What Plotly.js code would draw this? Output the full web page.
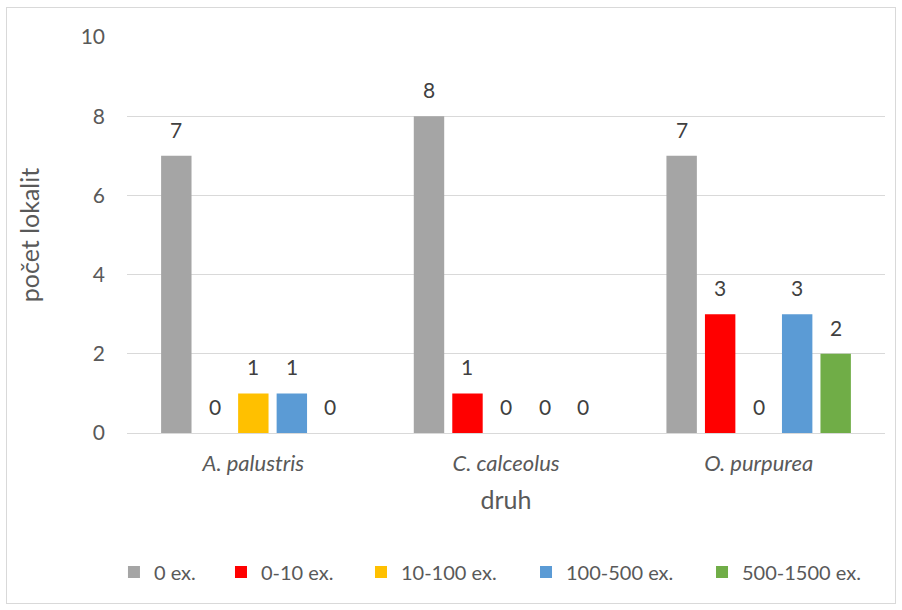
<!DOCTYPE html>
<html>
<head>
<meta charset="utf-8">
<script src="https://cdn.plot.ly/plotly-3.0.1.min.js"></script>
<style>
  html, body { margin: 0; padding: 0; background: #ffffff; }
  #wrap { position: relative; width: 902px; height: 610px; }
  #chart { width: 902px; height: 610px; }
  #frame { position: absolute; left: 6px; top: 7px; width: 890px; height: 597px;
           border: 1px solid #d9d9d9; box-sizing: border-box; pointer-events: none; }
</style>
</head>
<body>
<div id="wrap">
  <div id="chart"></div>
  <div id="frame"></div>
</div>
<script>
const categories = ['A. palustris', 'C. calceolus', 'O. purpurea'];
const seriesNames = ['0 ex.', '0-10 ex.', '10-100 ex.', '100-500 ex.', '500-1500 ex.'];
const s0 = [7, 8, 7];
const s1 = [0, 1, 3];
const s2 = [1, 0, 0];
const s3 = [1, 0, 3];
const s4 = [0, 0, 2];
const yTicks = [0, 2, 4, 6, 8, 10];
const xTitle = 'druh';
const yTitle = 'počet lokalit';

const seriesValues = [s0, s1, s2, s3, s4];
const colors = ['#a5a5a5', '#ff0000', '#ffc000', '#5b9bd5', '#70ad47'];
const legendIds = ['legend', 'legend2', 'legend3', 'legend4', 'legend5'];
const legendX = [-0.0172, 0.124, 0.3087, 0.5264, 0.7586];
const FONT = 'Lato, "Open Sans", "Liberation Sans", sans-serif';
const BARGAP = 0.238;
const nSeries = seriesValues.length;

const traces = seriesValues.map((vals, i) => ({
  type: 'bar',
  name: seriesNames[i],
  x: categories,
  y: vals,
  marker: { color: colors[i], line: { width: 0 } },
  legend: legendIds[i],
  hoverinfo: 'skip'
}));

// data labels placed through the category axis, centred over each bar slot
const slot = (1 - BARGAP) / nSeries;
const annotations = [];
seriesValues.forEach((vals, i) => {
  vals.forEach((v, j) => {
    annotations.push({
      xref: 'x', yref: 'y',
      x: j + (i - (nSeries - 1) / 2) * slot,
      y: v,
      text: String(v),
      showarrow: false,
      xanchor: 'center',
      yanchor: 'bottom',
      yshift: 12,
      font: { family: FONT, size: 21, color: '#404040' }
    });
  });
});

const layout = {
  width: 902,
  height: 610,
  margin: { l: 127, r: 17, t: 37, b: 177 },
  paper_bgcolor: '#ffffff',
  plot_bgcolor: '#ffffff',
  font: { family: FONT, color: '#595959' },
  barmode: 'group',
  bargap: BARGAP,
  bargroupgap: 0.21,
  showlegend: true,
  annotations: annotations,
  xaxis: {
    type: 'category',
    tickfont: { family: FONT, size: 22, color: '#595959', style: 'italic' },
    ticklabelstandoff: 15,
    showline: false,
    showgrid: false,
    title: { text: xTitle, font: { family: FONT, size: 25, color: '#595959' }, standoff: 16 },
    automargin: false
  },
  yaxis: {
    range: [0, 10],
    tickvals: yTicks,
    ticktext: yTicks.map(String),
    tickfont: { family: FONT, size: 21, color: '#595959' },
    ticklabelstandoff: 21,
    showgrid: true,
    gridcolor: '#d9d9d9',
    gridwidth: 1,
    zeroline: true,
    zerolinecolor: '#d9d9d9',
    zerolinewidth: 1,
    showline: false,
    title: { text: yTitle, font: { family: FONT, size: 25, color: '#595959' }, standoff: 33 },
    automargin: false
  }
};

legendIds.forEach((id, i) => {
  layout[id] = {
    orientation: 'h',
    x: legendX[i],
    xanchor: 'left',
    y: -0.351,
    yanchor: 'middle',
    bgcolor: 'rgba(0,0,0,0)',
    font: { family: FONT, size: 20, color: '#595959' }
  };
});

Plotly.newPlot('chart', traces, layout, { displayModeBar: false, staticPlot: true });
</script>
</body>
</html>
